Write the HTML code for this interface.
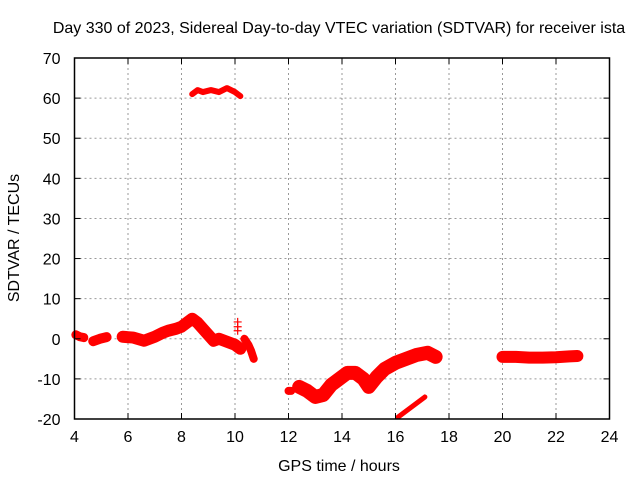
<!DOCTYPE html>
<html><head><meta charset="utf-8"><style>
body{margin:0;background:#fff;font-family:"Liberation Sans",sans-serif}
svg text{font-family:"Liberation Sans",sans-serif;font-size:16px;fill:#000}
</style></head><body>
<svg id="c" width="640" height="480">
<text x="339" y="33" text-anchor="middle">Day 330 of 2023, Sidereal Day-to-day VTEC variation (SDTVAR) for receiver ista</text>
<text x="339" y="471" text-anchor="middle">GPS time / hours</text>
<text transform="translate(19,238) rotate(-90)" text-anchor="middle">SDTVAR / TECUs</text>
<g id="grid"></g><g id="marks"></g><g id="axes"></g>
</svg>
<script>
const xTicks=[4,6,8,10,12,14,16,18,20,22,24];
const yTicks=[-20,-10,0,10,20,30,40,50,60,70];
const segTimes=[
[4.05,4.2,4.35],
[4.7,4.95,5.2],
[5.8,6.2,6.6,6.8,7.0,7.3,7.5,7.8,8.0,8.2,8.4,8.6,8.8,9.0,9.2,9.4,9.6,9.8,10.0,10.2],
[10.35,10.5,10.6,10.7],
[12.0,12.1],
[12.4,12.7,13.0,13.3,13.6,13.9,14.2,14.5,14.8,15.0,15.3,15.6,16.0,16.4,16.8,17.2,17.5],
[16.1,16.6,17.1],
[20.0,20.5,21.0,21.5,22.0,22.5,22.8],
[8.4,8.6,8.8,9.1,9.4,9.7,10.0,10.2]];
const segValues=[
[1,0.5,0.3],
[-0.6,0,0.4],
[0.5,0.3,-0.5,0,0.5,1.5,2,2.5,3,4,5,4,2.5,1,-0.5,0,-0.5,-1,-1.5,-2.5],
[0,-1.5,-3,-5],
[-13,-13],
[-12,-13,-14.5,-14,-11.5,-10,-8.5,-8.5,-10,-12,-9.5,-7.5,-6,-5,-4,-3.5,-4.5],
[-19.5,-17,-14.5],
[-4.5,-4.5,-4.7,-4.7,-4.6,-4.4,-4.3],
[61,62,61.5,62,61.5,62.5,61.5,60.5]];
const segWidths=[9,10,12,8,8,14,5,12,6];
const outlierTimes=[10.1,10.1,10.1];
const outlierValues=[2,3,4.2];
const X0=74.5,X1=609.5,Y0=419,Y1=58;
const sx=t=>X0+(t-4)/(24-4)*(X1-X0);
const sy=v=>Y0-(v+20)/90*(Y0-Y1);
const NS='http://www.w3.org/2000/svg';
function mk(tag,a,p){const e=document.createElementNS(NS,tag);for(const k in a)e.setAttribute(k,a[k]);p.appendChild(e);return e;}
const grid=document.getElementById('grid'),axes=document.getElementById('axes'),marks=document.getElementById('marks');
xTicks.forEach(t=>{const x=sx(t);
 if(t>4&&t<24){const g=mk('line',{x1:x,x2:x,y1:Y1,y2:Y0,stroke:'#999','stroke-dasharray':'2,3'},grid);}
 mk('line',{x1:x,x2:x,y1:Y0,y2:Y0-6,stroke:'#000'},axes);mk('line',{x1:x,x2:x,y1:Y1,y2:Y1+6,stroke:'#000'},axes);
 const l=mk('text',{x:x,y:Y0+23,'text-anchor':'middle'},axes);l.textContent=t;
 });
yTicks.forEach(v=>{const y=sy(v);
 if(v>-20&&v<70){const g=mk('line',{x1:X0,x2:X1,y1:y,y2:y,stroke:'#999','stroke-dasharray':'2,3'},grid);}
 mk('line',{x1:X0,x2:X0+6,y1:y,y2:y,stroke:'#000'},axes);mk('line',{x1:X1,x2:X1-6,y1:y,y2:y,stroke:'#000'},axes);
 const l=mk('text',{x:X0-14,y:y+6,'text-anchor':'end'},axes);l.textContent=v;
 });
const fr=mk('rect',{x:X0,y:Y1,width:X1-X0,height:Y0-Y1,fill:'none',stroke:'#000','stroke-width':1.5},axes);

segTimes.forEach((ts,i)=>{const pts=ts.map((t,j)=>sx(t)+','+sy(segValues[i][j])).join(' ');
 const p=mk('polyline',{points:pts,fill:'none',stroke:'#f00','stroke-width':segWidths[i],'stroke-linejoin':'round','stroke-linecap':'round'},marks);
 });
outlierTimes.forEach((t,i)=>{const x=sx(t),y=sy(outlierValues[i]);
 const g=mk('path',{d:`M${x-4},${y}h8M${x},${y-4}v8`,stroke:'#f00','stroke-width':1.2},marks);
 });
</script>
</body></html>
